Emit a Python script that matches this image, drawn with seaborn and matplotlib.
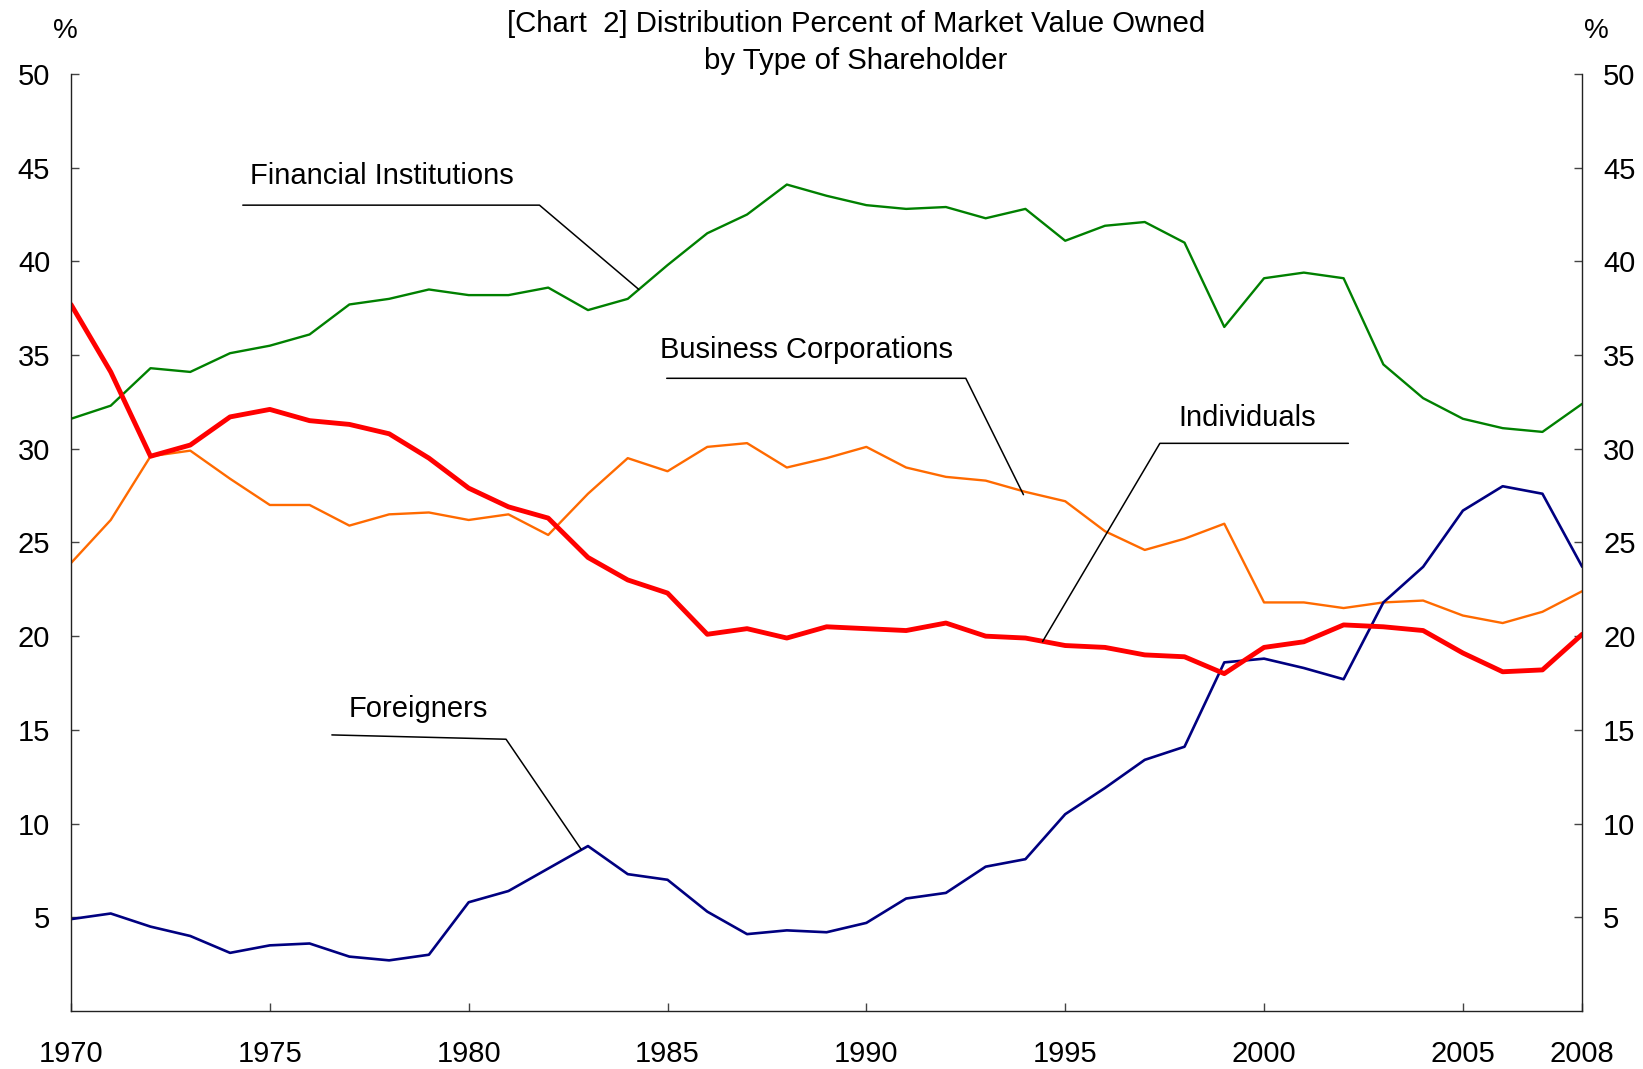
import numpy as np
import pandas as pd
import matplotlib
matplotlib.use("Agg")
import matplotlib.pyplot as plt
import seaborn as sns

years = list(range(1970, 2009))
financial = [31.6, 32.3, 34.3, 34.1, 35.1, 35.5, 36.1, 37.7, 38.0, 38.5,
             38.2, 38.2, 38.6, 37.4, 38.0, 39.8, 41.5, 42.5, 44.1, 43.5,
             43.0, 42.8, 42.9, 42.3, 42.8, 41.1, 41.9, 42.1, 41.0, 36.5,
             39.1, 39.4, 39.1, 34.5, 32.7, 31.6, 31.1, 30.9, 32.4]
business = [23.9, 26.2, 29.6, 29.9, 28.4, 27.0, 27.0, 25.9, 26.5, 26.6,
            26.2, 26.5, 25.4, 27.6, 29.5, 28.8, 30.1, 30.3, 29.0, 29.5,
            30.1, 29.0, 28.5, 28.3, 27.7, 27.2, 25.6, 24.6, 25.2, 26.0,
            21.8, 21.8, 21.5, 21.8, 21.9, 21.1, 20.7, 21.3, 22.4]
individuals = [37.7, 34.1, 29.6, 30.2, 31.7, 32.1, 31.5, 31.3, 30.8, 29.5,
               27.9, 26.9, 26.3, 24.2, 23.0, 22.3, 20.1, 20.4, 19.9, 20.5,
               20.4, 20.3, 20.7, 20.0, 19.9, 19.5, 19.4, 19.0, 18.9, 18.0,
               19.4, 19.7, 20.6, 20.5, 20.3, 19.1, 18.1, 18.2, 20.1]
foreigners = [4.9, 5.2, 4.5, 4.0, 3.1, 3.5, 3.6, 2.9, 2.7, 3.0,
              5.8, 6.4, 7.6, 8.8, 7.3, 7.0, 5.3, 4.1, 4.3, 4.2,
              4.7, 6.0, 6.3, 7.7, 8.1, 10.5, 11.9, 13.4, 14.1, 18.6,
              18.8, 18.3, 17.7, 21.8, 23.7, 26.7, 28.0, 27.6, 23.7]

x_ticks = [1970, 1975, 1980, 1985, 1990, 1995, 2000, 2005, 2008]
y_ticks = [5, 10, 15, 20, 25, 30, 35, 40, 45, 50]

title = "[Chart  2] Distribution Percent of Market Value Owned\nby Type of Shareholder"

sns.set_theme(style="white")
plt.rcParams['font.family'] = ['Liberation Sans', 'DejaVu Sans']
plt.rcParams['text.color'] = 'black'
plt.rcParams['xtick.color'] = 'black'
plt.rcParams['ytick.color'] = 'black'

fig = plt.figure(figsize=(16.43, 10.69), dpi=100)
ax = fig.add_axes([0.0432, 0.0543, 0.9198, 0.8765])

series = [
    ("Financial Institutions", financial, "#008000", 1.7),
    ("Business Corporations", business, "#FF6A00", 1.7),
    ("Foreigners", foreigners, "#000080", 1.9),
    ("Individuals", individuals, "#FF0000", 3.5),
]
for name, vals, col, lw in series:
    df = pd.DataFrame({"year": years, "value": vals})
    sns.lineplot(data=df, x="year", y="value", ax=ax, color=col, linewidth=lw)

ax.set_xlim(1970, 2008)
ax.set_ylim(0, 50)
ax.set_xticks(x_ticks)
ax.set_xticklabels([str(v) for v in x_ticks])
ax.set_yticks(y_ticks)
ax.set_yticklabels([str(v) for v in y_ticks])
ax.set_xlabel("")
ax.set_ylabel("")

for s in ["left", "bottom", "right"]:
    ax.spines[s].set_visible(True)
    ax.spines[s].set_color("#222222")
    ax.spines[s].set_linewidth(1.0)
ax.spines["top"].set_visible(False)

ax.tick_params(axis="y", direction="in", length=6, width=1, color="#444444",
               labelcolor="black",
               left=True, right=True, labelleft=True, labelright=True,
               labelsize=21, pad=15)
ax.tick_params(axis="x", direction="in", length=6, width=1, color="#444444",
               labelcolor="black", bottom=True, labelsize=21, pad=21)

fig.text(0.0395, 0.971, "%", fontsize=20, ha="center", va="center", color="black")
fig.text(0.9715, 0.971, "%", fontsize=20, ha="center", va="center", color="black")
fig.text(0.5208, 0.9605, title, fontsize=21.2, ha="center", va="center",
         linespacing=1.42, color="black")

lab_kw = dict(fontsize=21, color="black", ha="left", va="center")
ax.text(1974.5, 44.55, "Financial Institutions", **lab_kw)
ax.plot([1974.32, 1981.78, 1984.28], [43.0, 43.0, 38.5], color="black", lw=1.1)

ax.text(1984.82, 35.25, "Business Corporations", **lab_kw)
ax.plot([1984.98, 1992.5, 1993.95], [33.76, 33.76, 27.55], color="black", lw=1.1)

ax.text(1997.85, 31.65, "Individuals", **lab_kw)
ax.plot([2002.12, 1997.38, 1994.43], [30.29, 30.29, 19.71], color="black", lw=1.1)

ax.text(1976.98, 16.1, "Foreigners", **lab_kw)
ax.plot([1976.56, 1980.94, 1982.83], [14.73, 14.50, 8.62], color="black", lw=1.1)

fig.savefig("out.png", dpi=100)
